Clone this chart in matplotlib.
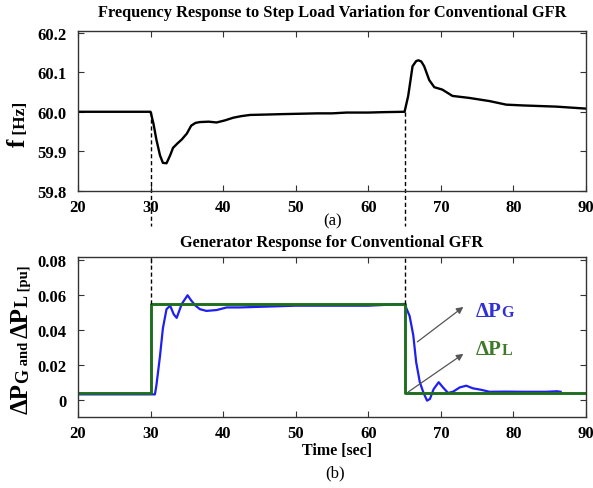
import matplotlib
matplotlib.use("Agg")
from matplotlib import pyplot as plt
from matplotlib.transforms import offset_copy

# frequency response (top panel)
freq_t = [20, 30, 30.4, 30.8, 31.3, 31.7, 32.2, 32.7, 33.1, 33.7, 34.3, 35.0, 35.6,
          36.2, 36.8, 38, 39.1, 40.2, 41.4, 42.5, 43.7, 46, 48, 50.5, 53, 55, 57, 60,
          62, 65, 65.5, 66.1, 66.6, 66.9, 67.3, 67.7, 68.4, 69.1, 70.2, 71.6, 73.9,
          76.7, 79, 81.3, 85.9, 90]
freq_f = [60.0, 60.0, 59.97, 59.93, 59.89, 59.871, 59.87, 59.89, 59.909, 59.92,
          59.93, 59.945, 59.965, 59.972, 59.974, 59.975, 59.973, 59.978, 59.985,
          59.989, 59.992, 59.993, 59.994, 59.995, 59.996, 59.996, 59.998, 59.998,
          59.999, 60.0, 60.04, 60.115, 60.128, 60.13, 60.127, 60.115, 60.08, 60.062,
          60.056, 60.04, 60.035, 60.027, 60.018, 60.016, 60.013, 60.008]

# generator response (blue)
gen_t = [20, 30, 30.6, 30.8, 31.3, 31.7, 32.2, 32.7, 33.2, 33.6, 34.3, 35.1, 35.6,
         36.2, 36.8, 37.7, 39.1, 40.5, 42.3, 50, 60, 65, 65.7, 66.2, 66.6, 67.1,
         67.6, 68.1, 68.5, 69, 69.7, 70.3, 71, 71.7, 72.6, 73.5, 74.4, 75.6, 76.7,
         79, 81.3, 84.5, 86, 86.5]
gen_p = [0.003, 0.003, 0.003, 0.008, 0.025, 0.041, 0.052, 0.054, 0.049, 0.047, 0.055,
         0.060, 0.057, 0.054, 0.052, 0.051, 0.0515, 0.053, 0.053, 0.054, 0.054, 0.055,
         0.048, 0.037, 0.0215, 0.010, 0.004, -0.0006, 0.0004, 0.006, 0.010, 0.007,
         0.0038, 0.0046, 0.007, 0.008, 0.0065, 0.0056, 0.0045, 0.0046, 0.0045, 0.0045,
         0.0048, 0.0045]

# load step (green)
load_t = [20, 30, 65, 90]
load_p = [0.0036, 0.055, 0.0036, 0.0036]

step_times = [30, 65]
xticks = [20, 30, 40, 50, 60, 70, 80, 90]
f_ticks = [59.8, 59.9, 60.0, 60.1, 60.2]
p_ticks = [0, 0.02, 0.04, 0.06, 0.08]

SERIF = "Liberation Serif"
BLUE = "#1f1ff0"
GREEN = "#1f6e1f"

plt.rcParams['font.family'] = SERIF
plt.rcParams['font.weight'] = 'bold'

fig = plt.figure(figsize=(5.93, 4.89), dpi=100)
ax1 = fig.add_axes([0.1315, 0.6074, 0.8567, 0.3272])
ax2 = fig.add_axes([0.1315, 0.1452, 0.8567, 0.3272])


def style_axes(ax):
    for sp in ax.spines.values():
        sp.set_color('#333333')
        sp.set_linewidth(1.0)
    ax.tick_params(direction='in', top=True, right=True, length=4, width=0.8,
                   labelsize=12, color='#333333')
    ax.tick_params(axis='x', pad=6)
    ax.tick_params(axis='y', pad=8)
    ax.set_xlim(20, 90)
    ax.set_xticks(xticks)


# top panel
ax1.plot(freq_t, freq_f, color='black', lw=1.7)
for t in step_times:
    ax1.plot([t, t], [60.0, 59.712], color='black', lw=1, dashes=(3, 2), clip_on=False)
ax1.set_ylim(59.8, 60.204)
ax1.set_yticks(f_ticks)
ax1.set_yticklabels(['%.1f' % v for v in f_ticks])
style_axes(ax1)

# bottom panel
ax2.plot(gen_t, gen_p, color=BLUE, lw=1.6)
ax2.plot(load_t, load_p, color=GREEN, lw=2.1, drawstyle='steps-post')
for t in step_times:
    ax2.plot([t, t], [0.055, 0.082], color='black', lw=1, dashes=(3, 2), clip_on=False)
ax2.set_ylim(-0.01, 0.082)
ax2.set_yticks(p_ticks)
ax2.set_yticklabels(['0', '0.02', '0.04', '0.06', '0.08'])
style_axes(ax2)

ax2.annotate('', xy=(73.1, 0.0533), xytext=(66.76, 0.0332),
             arrowprops=dict(arrowstyle='-|>', color='#555555', lw=0.9,
                             mutation_scale=10, shrinkA=0, shrinkB=0))
ax2.annotate('', xy=(73.1, 0.0263), xytext=(65.5, 0.0044),
             arrowprops=dict(arrowstyle='-|>', color='#555555', lw=0.9,
                             mutation_scale=10, shrinkA=0, shrinkB=0))

renderer = fig.canvas.get_renderer()


def chain_h(ax, x, y, pieces, color):
    # pieces of text laid left to right, sharing one baseline
    dx = 0
    for s, size in pieces:
        tr = offset_copy(ax.transData, fig=fig, x=dx, y=0, units='dots')
        t = ax.text(x, y, s, transform=tr, fontsize=size, color=color,
                    fontweight='bold', ha='left', va='baseline')
        dx += t.get_window_extent(renderer).width


def chain_v(x, y, pieces):
    # rotated pieces laid bottom to top, sharing one baseline
    dy = 0
    for s, size in pieces:
        tr = offset_copy(fig.transFigure, fig=fig, x=0, y=dy, units='dots')
        t = fig.text(x, y, s, transform=tr, fontsize=size, fontweight='bold',
                     rotation=90, rotation_mode='anchor', ha='left', va='baseline')
        dy += t.get_window_extent(renderer).height


chain_h(ax2, 74.8, 0.0482, [('ΔP', 15), ('G', 11.5)], '#3030d8')
chain_h(ax2, 74.8, 0.0262, [('ΔP', 15), ('L', 11.5)], '#3f7a2a')

chain_v(25 / 593, 1 - 147 / 489, [('f', 18), (' [Hz]', 12.5)])
chain_v(28 / 593, 1 - 414 / 489, [('ΔP', 18), ('G', 13), (' and ', 10.5),
                                  ('ΔP', 18), ('L', 13), (' [pu]', 10.5)])

fig.text(332 / 593, 1 - 13 / 489, 'Frequency Response to Step Load Variation for Conventional GFR',
         ha='center', va='center', fontsize=11.8, fontweight='bold')
fig.text(332 / 593, 1 - 243 / 489, 'Generator Response for Conventional GFR',
         ha='center', va='center', fontsize=11.8, fontweight='bold')
fig.text(333 / 593, 1 - 221 / 489, '(a)', ha='center', va='center',
         fontsize=12, fontweight='normal')
fig.text(337 / 593, 1 - 451 / 489, 'Time [sec]', ha='center', va='center',
         fontsize=11.5, fontweight='bold')
fig.text(335 / 593, 1 - 473 / 489, '(b)', ha='center', va='center',
         fontsize=12, fontweight='normal')

fig.savefig('out.png', dpi=100)
